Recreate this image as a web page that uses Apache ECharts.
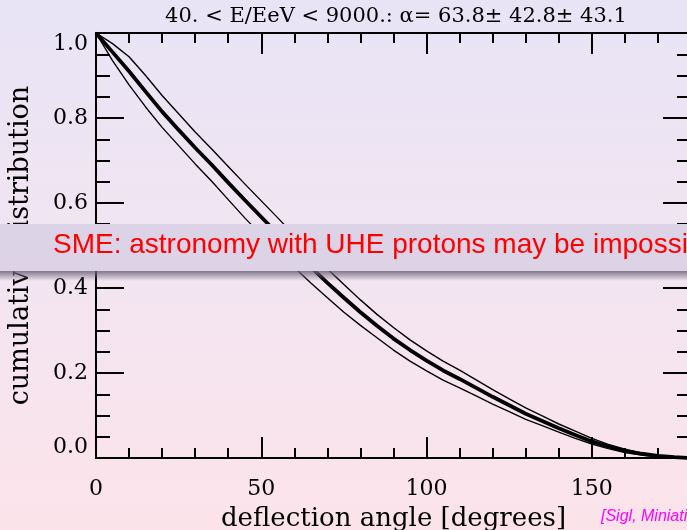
<!DOCTYPE html>
<html>
<head>
<meta charset="utf-8">
<script src="https://cdn.jsdelivr.net/npm/echarts@6/dist/echarts.min.js"></script>
<style>
html,body{margin:0;padding:0;}
#chart{width:687px;height:530px;}
</style>
</head>
<body>
<div id="chart"></div>
<script>
// Deflection angle grid [degrees]
var angles = [0,5,10,15,20,25,30,35,40,45,50,55,60,65,70,75,80,85,90,95,100,105,110,115,120,125,130,135,140,145,150,155,160,165,170,175,180];
// Cumulative distribution: central estimate
var centerCurve = [1.000,0.955,0.910,0.862,0.815,0.772,0.730,0.690,0.648,0.607,0.567,0.527,0.488,0.449,0.412,0.377,0.343,0.311,0.281,0.254,0.229,0.206,0.186,0.165,0.144,0.124,0.104,0.087,0.070,0.054,0.039,0.027,0.017,0.010,0.005,0.002,0.000];
// Upper envelope
var upperCurve = [1.000,0.975,0.944,0.900,0.853,0.810,0.767,0.727,0.686,0.645,0.605,0.565,0.524,0.484,0.445,0.408,0.372,0.338,0.307,0.278,0.252,0.228,0.207,0.184,0.161,0.139,0.118,0.099,0.080,0.063,0.046,0.032,0.021,0.012,0.006,0.002,0.000];
// Lower envelope
var lowerCurve = [1.000,0.935,0.878,0.826,0.778,0.735,0.692,0.651,0.608,0.565,0.525,0.486,0.448,0.412,0.377,0.343,0.312,0.283,0.254,0.228,0.205,0.183,0.165,0.146,0.127,0.109,0.091,0.076,0.061,0.046,0.033,0.022,0.013,0.007,0.003,0.001,0.000];
// Tick labels
var xTickLabels = ['0','50','100','150'];
var yTickLabels = ['0.0','0.2','0.4','0.6','0.8','1.0'];

var titleText = '40. < E/EeV < 9000.: \u03b1= 63.8\u00b1 42.8\u00b1 43.1';
var xName = 'deflection angle [degrees]';
var yName = 'cumulative distribution';
var bannerText = 'SME: astronomy with UHE protons may be impossible';
var creditText = '[Sigl, Miniati, En\u00dflin 2004]';

function pairs(ys){ return angles.map(function(a,i){ return [a, ys[i]]; }); }

var serif = 'DejaVu Serif';
var axisLineStyle = {color:'#000', width:2};

function xAxisDef(pos, major, withLabels){
  return {
    type:'value', position:pos, min:0, max:180, interval: major ? 50 : 10,
    axisLine:{show:true, onZero:false, lineStyle:axisLineStyle},
    axisTick:{show:true, inside:true, length: major ? 21 : 10, lineStyle:{color:'#000', width:2}},
    minorTick:{show:false},
    axisLabel: withLabels ? {show:true, margin:20, color:'#000', fontFamily:serif, fontSize:22,
      formatter:function(v){ var s=String(v); return xTickLabels.indexOf(s)>=0 ? s : ''; }} : {show:false},
    splitLine:{show:false},
    name: withLabels ? xName : '', nameLocation:'middle', nameGap:48,
    nameTextStyle:{color:'#000', fontFamily:serif, fontSize:26}
  };
}
function yAxisDef(pos, major, withLabels){
  return {
    type:'value', position:pos, min:0, max:1, interval: major ? 0.2 : 0.05,
    axisLine:{show:true, onZero:false, lineStyle:axisLineStyle},
    axisTick:{show:true, inside:true, length: major ? 28 : 14, lineStyle:{color:'#000', width:2}},
    minorTick:{show:false},
    axisLabel: withLabels ? {show:true, margin:8, color:'#000', fontFamily:serif, fontSize:22,
      verticalAlignMinLabel:'bottom', verticalAlignMaxLabel:'top',
      formatter:function(v){ return yTickLabels[Math.round(v*5)] || ''; }} : {show:false},
    splitLine:{show:false}, minorSplitLine:{show:false},
    name: withLabels ? yName : '', nameLocation:'middle', nameGap:62, nameRotate:90,
    nameTextStyle:{color:'#000', fontFamily:serif, fontSize:27}
  };
}

var chart = echarts.init(document.getElementById('chart'), null, {renderer:'canvas'});
var option = {
  animation:false,
  backgroundColor: new echarts.graphic.LinearGradient(0,0,0,1,[
    {offset:0, color:'#e8e4f6'},{offset:0.5, color:'#f2e5f1'},{offset:1, color:'#fce3ea'}]),
  grid:{left:96, top:33, width:595, height:425, containLabel:false, outerBoundsMode:'none'},
  // order: major bottom, major top, then minor axes (one per side)
  xAxis:[
    xAxisDef('bottom', true, true),
    xAxisDef('top', true, false),
    xAxisDef('bottom', false, false),
    xAxisDef('top', false, false)
  ],
  yAxis:[
    yAxisDef('left', true, true),
    yAxisDef('right', true, false),
    yAxisDef('left', false, false),
    yAxisDef('right', false, false)
  ],
  series:[
    {type:'line', data:pairs(upperCurve), showSymbol:false, symbol:'none', smooth:false,
     lineStyle:{color:'#000', width:1.4}, z:3},
    {type:'line', data:pairs(lowerCurve), showSymbol:false, symbol:'none', smooth:false,
     lineStyle:{color:'#000', width:1.4}, z:3},
    {type:'line', data:pairs(centerCurve), showSymbol:false, symbol:'none', smooth:false,
     lineStyle:{color:'#000', width:3.8}, z:4}
  ],
  graphic:[
    {type:'text', x:396, y:17, z:100,
     style:{text:titleText, fill:'#000', font:'21px "DejaVu Serif"', textAlign:'center', textVerticalAlign:'middle'}},
    {type:'rect', x:0, y:271, z:100, shape:{x:0,y:0,width:687,height:10},
     style:{fill:new echarts.graphic.LinearGradient(0,0,0,1,[
       {offset:0,color:'rgba(110,100,120,0.85)'},{offset:1,color:'rgba(110,100,120,0)'}])}},
    {type:'rect', x:0, y:224, z:101, shape:{x:0,y:0,width:687,height:47},
     style:{fill:'#dcd3e7'}},
    {type:'text', x:53, y:245, z:102,
     style:{text:bannerText, fill:'#ff0000', font:'28px "Liberation Sans"', textAlign:'left', textVerticalAlign:'middle'}},
    {type:'text', x:601, y:517, z:102,
     style:{text:creditText, fill:'#ff00ff', font:'italic 16px "Liberation Sans"', textAlign:'left', textVerticalAlign:'middle'}}
  ]
};
chart.setOption(option);
</script>
</body>
</html>
